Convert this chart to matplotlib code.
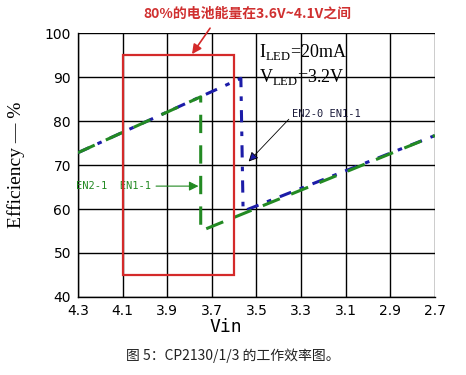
import matplotlib
matplotlib.use('Agg')
import matplotlib.pyplot as plt
from matplotlib.patches import Rectangle

plt.rcParams['font.family'] = ['DejaVu Sans', 'Noto Sans CJK SC']

# efficiency curves (Vin falling from 4.3 V to 2.7 V)
vin_en21 = [4.3, 3.75, 3.75, 2.7]
eff_en21 = [72.8, 85.5, 55.0, 76.7]
vin_en20 = [4.3, 3.57, 3.56, 2.7]
eff_en20 = [72.8, 89.7, 59.5, 76.7]

# battery range box
box_vin = [4.1, 3.6]
box_eff = [45, 95]

xticks = [4.3, 4.1, 3.9, 3.7, 3.5, 3.3, 3.1, 2.9, 2.7]
yticks = [40, 50, 60, 70, 80, 90, 100]

fig = plt.figure(figsize=(4.66, 3.75), dpi=100)
ax = fig.add_axes([0.1674, 0.208, 0.766, 0.704])

ax.plot(vin_en20, eff_en20, color='#1c1ca8', lw=2.2, dashes=(4, 3, 1.5, 3), zorder=3)
ax.plot(vin_en21, eff_en21, color='#238a23', lw=2.2, dashes=(6, 4), zorder=4)

ax.add_patch(Rectangle((box_vin[1], box_eff[0]), box_vin[0] - box_vin[1],
                       box_eff[1] - box_eff[0], fill=False, ec='#d42a2a', lw=1.6, zorder=5))

ax.set_xlim(4.3, 2.7)
ax.set_ylim(40, 100)
ax.set_xticks(xticks)
ax.set_yticks(yticks)
ax.set_xticklabels([f'{v:.1f}' for v in xticks])
ax.tick_params(length=0, labelsize=10, pad=5)
ax.grid(True, color='black', lw=1)
for s in ['top', 'right']:
    ax.spines[s].set_visible(False)
for s in ['left', 'bottom']:
    ax.spines[s].set_linewidth(1)

ax.set_xlabel('Vin', family='DejaVu Sans Mono', fontsize=13, va='center')
ax.xaxis.set_label_coords(0.415, -0.115)
ax.set_ylabel('Efficiency — %', family='Liberation Serif', fontsize=14, labelpad=14)

ax.text(3.49, 98.0, r'I$_{\mathregular{LED}}$=20mA', family='Liberation Serif', fontsize=13, va='top')
ax.text(3.49, 92.3, r'V$_{\mathregular{LED}}$=3.2V', family='Liberation Serif', fontsize=13, va='top')

# EN2-0 EN1-1 label with arrow to the blue drop
ax.text(3.34, 81.7, 'EN2-0 EN1-1', family='DejaVu Sans Mono', fontsize=7.5,
        color='#1a1a3a', va='center', ha='left')
ax.annotate('', xy=(3.535, 70.8), xytext=(3.355, 80.4),
            arrowprops=dict(arrowstyle='-|>', color='black', lw=0.6, mutation_scale=14,
                            shrinkA=0, shrinkB=0, fc='#1c1ca8'))

# EN2-1 EN1-1 label with arrow to the green drop
ax.annotate('EN2-1  EN1-1', xy=(3.76, 65.2), xytext=(3.975, 65.2), family='DejaVu Sans Mono',
            fontsize=7.5, color='#238a23', va='center', ha='right',
            arrowprops=dict(arrowstyle='-|>', color='#238a23', lw=0.8, mutation_scale=14,
                            shrinkA=2, shrinkB=0))

fig.text(0.53, 0.963, '80%的电池能量在3.6V~4.1V之间', ha='center', va='center', color='#d03030',
         fontsize=10, fontweight='bold', family=['Noto Sans CJK SC', 'DejaVu Sans'])
ax.annotate('', xy=(3.789, 95.2), xytext=(3.708, 101.1), annotation_clip=False,
            arrowprops=dict(arrowstyle='-|>', color='#d42a2a', lw=1.2, mutation_scale=14,
                            shrinkA=0, shrinkB=0))

fig.text(0.5, 0.052, '图 5：CP2130/1/3 的工作效率图。', ha='center', va='center', fontsize=10,
         family=['Noto Sans CJK SC', 'DejaVu Sans'], color='#222222')

fig.savefig('out.png', dpi=100)
